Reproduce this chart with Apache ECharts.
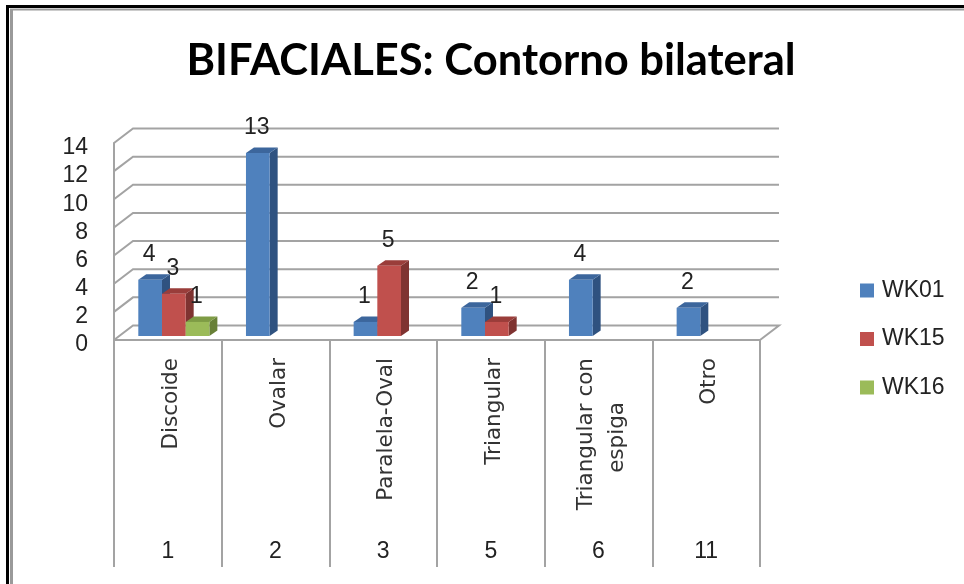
<!DOCTYPE html>
<html><head><meta charset="utf-8">
<style>html,body{margin:0;padding:0;background:#fff}#c{width:964px;height:584px}</style>
<script src="https://cdn.jsdelivr.net/npm/echarts@6/dist/echarts.min.js"></script>
</head><body><div id="c"></div>
<script>
const titleText = 'BIFACIALES: Contorno bilateral';
const categories = ['Discoide','Ovalar','Paralela-Oval','Triangular','Triangular con\nespiga','Otro'];
const codes = ['1','2','3','5','6','11'];
const yTicks = [0,2,4,6,8,10,12,14];
const seriesNames = ['WK01','WK15','WK16'];
const wk01 = [4,13,1,2,4,2];
const wk15 = [3,null,5,1,null,null];
const wk16 = [1,null,null,null,null,null];
const palette = [
  {front:'#4F81BD',side:'#2F5280',top:'#3C669C'},
  {front:'#C0504D',side:'#7F3331',top:'#9A3D3A'},
  {front:'#9BBB59',side:'#688037',top:'#7E9C45'}
];
const GRID = '#A3A3A3';
const uiFont = '"Liberation Sans", sans-serif';
const titleFont = 'Lato, sans-serif';
const rotFont = '"DejaVu Sans"';
const wallDX = 19, wallDY = 14.5, barDX = 8, barDY = 5.5, shiftX = 6, shiftY = 4;

function poly(points, fill){ return {type:'polygon', shape:{points}, style:{fill}}; }

function barSeries(name, values, slot){
  const c = palette[slot];
  return {
    type:'custom', name, z:3,
    itemStyle:{color:c.front},
    encode:{x:0,y:1},
    data: values.map((v,i)=>v==null?null:[i,v]).filter(Boolean),
    renderItem(params, api){
      const top = api.coord([api.value(0), api.value(1)]);
      const base = api.coord([api.value(0), 0]);
      const band = api.size([1,0])[0];
      const w = band*0.22;
      const x0 = top[0] + shiftX + (slot-1.5)*w;
      const x1 = x0 + w;
      const y0 = top[1] - shiftY, y1 = base[1] - shiftY;
      return {type:'group', children:[
        poly([[x1,y0],[x1+barDX,y0-barDY],[x1+barDX,y1-barDY],[x1,y1]], c.side),
        poly([[x0,y0],[x0+barDX,y0-barDY],[x1+barDX,y0-barDY],[x1,y0]], c.top),
        {type:'rect', shape:{x:x0,y:y0,width:w,height:y1-y0}, style:{fill:c.front}},
        {type:'text', z2:50, style:{text:String(api.value(1)), x:x0+w/2-1, y:y0-25,
          align:'center', verticalAlign:'middle', fill:'#222', font:'23px '+uiFont}}
      ]};
    }
  };
}

const frameSeries = {
  type:'custom', name:'frame', silent:true, z:1,
  encode:{y:0},
  data: yTicks.map(v=>[v]),
  renderItem(params, api){
    const cs = params.coordSys;
    const y = api.coord([0, api.value(0)])[1];
    const xl = cs.x, xr = cs.x + cs.width;
    const pts = api.value(0)===0
      ? [[xl,y],[xl+wallDX,y-wallDY],[xr+wallDX,y-wallDY],[xr,y]]
      : [[xl,y],[xl+wallDX,y-wallDY],[xr+wallDX,y-wallDY]];
    return {type:'polyline', shape:{points:pts}, style:{stroke:GRID, lineWidth:2, fill:'none'}};
  }
};

const chart = echarts.init(document.getElementById('c'), null, {renderer:'canvas'});
chart.setOption({
  animation:false,
  backgroundColor:'#fff',
  title:{text:titleText, left:486, top:34, textAlign:'center',
    textStyle:{fontFamily:titleFont, fontWeight:'bold', fontSize:43.5, color:'#000'}},
  legend:{orient:'vertical', left:855, top:274, itemWidth:14, itemHeight:14, itemGap:25.5,
    data:seriesNames, icon:'rect',
    textStyle:{fontFamily:uiFont, fontSize:23, color:'#222', padding:[0,0,0,3]}},
  grid:{left:114, top:143, width:646, height:197, containLabel:false},
  xAxis:[
    {type:'category', data:categories, position:'bottom',
     axisLine:{lineStyle:{color:GRID,width:2}},
     axisTick:{show:true, length:227, lineStyle:{color:GRID,width:2}},
     axisLabel:{interval:0, rotate:90, margin:18, color:'#333',
       fontFamily:rotFont, fontSize:21.5, lineHeight:31,
       formatter:v=>{const p=v.split('\n');return p.length>1?'{a|'+p[0]+'}\n{b|'+p[1]+'}':'{a|'+v+'}';},
       rich:{a:{fontFamily:rotFont,fontSize:21.5,lineHeight:31,color:'#333',padding:[7,0,0,0]},
             b:{fontFamily:rotFont,fontSize:21.5,lineHeight:31,color:'#333',padding:[7,44,0,0]}}}},
    {type:'category', data:codes, position:'bottom',
     axisLine:{show:false}, axisTick:{show:false},
     axisLabel:{interval:0, margin:200, color:'#222', fontFamily:uiFont, fontSize:23}}
  ],
  yAxis:{type:'value', min:0, max:14, interval:2,
    axisLine:{show:true, lineStyle:{color:GRID,width:2}},
    axisTick:{show:false}, splitLine:{show:false},
    axisLabel:{margin:26, color:'#222', fontFamily:uiFont, fontSize:23,
      formatter:'{v|{value}}',
      rich:{v:{fontFamily:uiFont, fontSize:23, color:'#222', padding:[10,0,0,0]}}}},
  series:[frameSeries, barSeries('WK01',wk01,0), barSeries('WK15',wk15,1), barSeries('WK16',wk16,2)],
  graphic:[
    {type:'line', silent:true, shape:{x1:7.5,y1:6.5,x2:7.5,y2:584}, style:{stroke:'#000',lineWidth:3}},
    {type:'line', silent:true, shape:{x1:6,y1:6.5,x2:964,y2:6.5}, style:{stroke:'#000',lineWidth:3}},
    {type:'line', silent:true, shape:{x1:11.5,y1:10,x2:11.5,y2:584}, style:{stroke:'#9a9a9a',lineWidth:3}},
    {type:'line', silent:true, shape:{x1:10,y1:9.5,x2:964,y2:9.5}, style:{stroke:'#9a9a9a',lineWidth:2}}
  ]
});
</script></body></html>
